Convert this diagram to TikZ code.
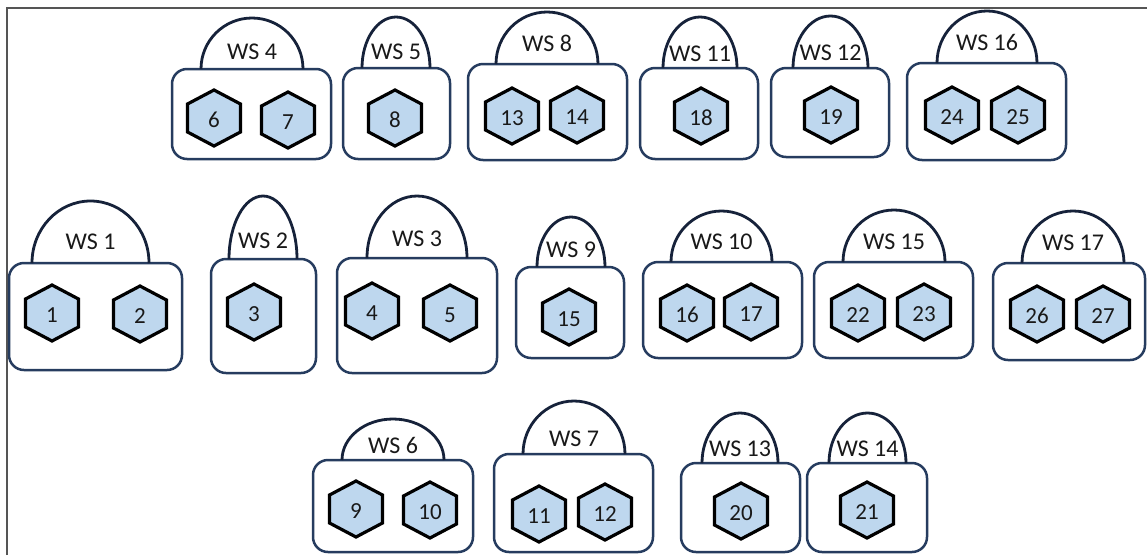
\documentclass[tikz,border=0pt]{standalone}
\usepackage{fontspec}
\setmainfont{Carlito}
\usetikzlibrary{fit}

\definecolor{boxline}{RGB}{38,60,95}
\definecolor{domeline}{RGB}{22,34,58}
\definecolor{cellfill}{RGB}{190,215,238}
\definecolor{inktext}{RGB}{25,25,25}
\definecolor{frameline}{RGB}{85,85,85}

\tikzset{
  wsbox/.style={draw=boxline, line width=2.5pt, rounded corners=15pt, fill=white, inner sep=0pt},
  dome/.style={draw=domeline, line width=2.8pt},
  wslabel/.style={inner sep=0pt, text=inktext, font=\fontsize{24}{27}\selectfont},
  cell/.style={draw=black, fill=cellfill, line width=3.2pt, line join=miter},
  cellnum/.style={inner sep=0pt, text=inktext, font=\fontsize{23}{26}\selectfont},
}

% workstation: number, box corners (x1,y1)-(x2,y2), dome left/right/top, label y
\newcommand{\station}[9]{%
  \node[wsbox, fit={(#2,#3) (#4,#5)}] (ws#1) {};
  \draw[dome] (#6,#3) arc[start angle=180, end angle=0,
      x radius={(#7-#6)/2*1pt}, y radius={(#3-#8)*1pt}];
  \node[wslabel] (lbl#1) at ({(#6+#7)/2},#9) {WS #1};
}

% hexagonal cell with its number
\newcommand{\cellhex}[3]{%
  \path[cell, shift={(#2,#3)}] (0,-28) -- (26.5,-14) -- (26.5,14) -- (0,28)
      -- (-26.5,14) -- (-26.5,-14) -- cycle;
  \node[cellnum] (c#1) at (#2,{#3+2}) {#1};
}

\begin{document}
\begin{tikzpicture}[x=1pt, y=-1pt]
  \useasboundingbox (0,0) rectangle (1147,555);
  \fill[white] (0,0) rectangle (1147,555);

  % frame
  \draw[frameline, line width=2pt] (7,555) -- (7,8) -- (1147,8);

  % top row
  \station{4}{172}{69}{331}{159}{201}{303}{18}{52}
  \station{5}{343}{68}{450}{159}{362}{430}{17}{52}
  \station{8}{468}{64}{627}{160}{496}{598}{12}{43}
  \station{11}{640}{68}{758}{159}{663}{737}{17}{54}
  \station{12}{771}{68}{889}{157}{793}{868}{16}{53}
  \station{16}{907}{63}{1066}{160}{937}{1037}{11}{42}

  % middle row
  \station{1}{9}{263}{182}{370}{32}{149}{201}{242}
  \station{2}{211}{259}{316}{373}{229}{297}{196}{241}
  \station{3}{337}{258}{497}{373}{367}{467}{196}{239}
  \station{9}{516}{267}{624}{358}{537}{605}{217}{250}
  \station{10}{643}{262}{802}{358}{671}{772}{211}{242}
  \station{15}{814}{262}{973}{358}{843}{945}{210}{242}
  \station{17}{993}{263}{1145}{360}{1022}{1124}{211}{243}

  % bottom row
  \station{6}{313}{460}{473}{552}{342}{444}{419}{445}
  \station{7}{494}{454}{653}{552}{523}{625}{401}{439}
  \station{13}{681}{463}{800}{552}{702}{778}{413}{449}
  \station{14}{807}{463}{927}{552}{829}{906}{413}{449}

  % cells
  \cellhex{6}{214}{118}
  \cellhex{7}{288}{120}
  \cellhex{8}{395}{118}
  \cellhex{13}{512}{116}
  \cellhex{14}{577}{115}
  \cellhex{18}{701}{116}
  \cellhex{19}{831}{115}
  \cellhex{24}{952}{115}
  \cellhex{25}{1018}{115}

  \cellhex{1}{52}{313}
  \cellhex{2}{140}{314}
  \cellhex{3}{254}{312}
  \cellhex{4}{372}{311}
  \cellhex{5}{450}{313}
  \cellhex{15}{569}{317}
  \cellhex{16}{687}{313}
  \cellhex{17}{751}{312}
  \cellhex{22}{858}{313}
  \cellhex{23}{924}{312}
  \cellhex{26}{1037}{314}
  \cellhex{27}{1103}{314}

  \cellhex{9}{356}{509}
  \cellhex{10}{430}{510}
  \cellhex{11}{539}{514}
  \cellhex{12}{605}{512}
  \cellhex{20}{741}{511}
  \cellhex{21}{867}{510}
\end{tikzpicture}
\end{document}
